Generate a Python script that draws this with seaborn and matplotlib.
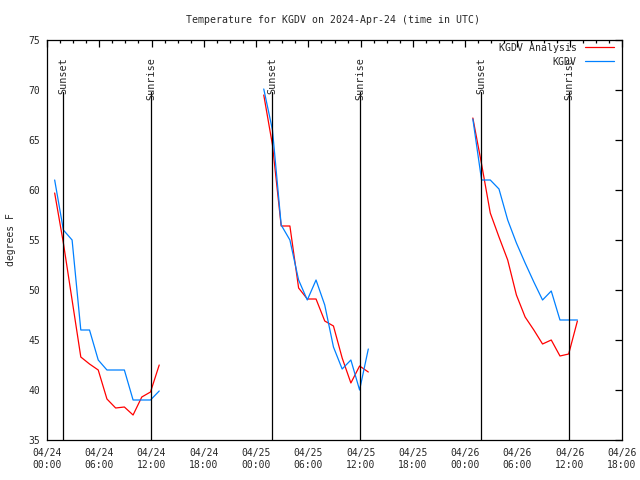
import numpy as np
import pandas as pd
import matplotlib
matplotlib.use("Agg")
import matplotlib.pyplot as plt
import seaborn as sns
from matplotlib.lines import Line2D

# hours since 2024-04-24 00:00 UTC, one value per hourly obs (:53)
hours_day1 = [0.88, 1.88, 2.88, 3.88, 4.88, 5.88, 6.88, 7.88, 8.88, 9.88, 10.88, 11.88, 12.88]
hours_day2 = [24.88, 25.88, 26.88, 27.88, 28.88, 29.88, 30.88, 31.88, 32.88, 33.88, 34.88, 35.88, 36.88]
hours_day3 = [48.88, 49.88, 50.88, 51.88, 52.88, 53.88, 54.88, 55.88, 56.88, 57.88, 58.88, 59.88, 60.88]

analysis_day1 = [59.7, 54.7, 49.0, 43.3, 42.6, 42.0, 39.1, 38.2, 38.3, 37.5, 39.3, 39.8, 42.5]
analysis_day2 = [69.5, 64.5, 56.4, 56.4, 50.2, 49.1, 49.1, 46.9, 46.4, 43.2, 40.7, 42.4, 41.8]
analysis_day3 = [67.2, 62.6, 57.7, 55.3, 53.0, 49.5, 47.3, 46.0, 44.6, 45.0, 43.4, 43.6, 46.9]

obs_day1 = [61.0, 56.0, 55.0, 46.0, 46.0, 43.0, 42.0, 42.0, 42.0, 39.0, 39.0, 39.0, 39.9]
obs_day2 = [70.1, 66.0, 56.5, 55.0, 51.0, 49.0, 51.0, 48.5, 44.3, 42.1, 43.0, 40.0, 44.1]
obs_day3 = [67.1, 61.0, 61.0, 60.1, 57.0, 54.7, 52.7, 50.8, 49.0, 49.9, 47.0, 47.0, 47.0]

sunset_hours = [1.85, 25.85, 49.85]
sunrise_hours = [11.95, 35.95, 59.95]

tick_hours = [0, 6, 12, 18, 24, 30, 36, 42, 48, 54, 60, 66]
tick_labels = ["04/24\n00:00", "04/24\n06:00", "04/24\n12:00", "04/24\n18:00",
               "04/25\n00:00", "04/25\n06:00", "04/25\n12:00", "04/25\n18:00",
               "04/26\n00:00", "04/26\n06:00", "04/26\n12:00", "04/26\n18:00"]

rows = []
for seg, (h, a, o) in enumerate([(hours_day1, analysis_day1, obs_day1),
                                 (hours_day2, analysis_day2, obs_day2),
                                 (hours_day3, analysis_day3, obs_day3)]):
    for hh, aa, oo in zip(h, a, o):
        rows.append({"hour": hh, "temp": aa, "series": "KGDV Analysis", "seg": seg})
        rows.append({"hour": hh, "temp": oo, "series": "KGDV", "seg": seg})
df = pd.DataFrame(rows)

sns.set_style("white")
plt.rcParams["font.family"] = ["DejaVu Sans Mono"]
plt.rcParams["font.size"] = 7

colors = {"KGDV Analysis": "#ff0000", "KGDV": "#0080ff"}

fig = plt.figure(figsize=(6.4, 4.8), dpi=100)
ax = fig.add_axes([47 / 640, 40 / 480, 575 / 640, 400 / 480])

sns.lineplot(data=df, x="hour", y="temp", hue="series", units="seg", estimator=None,
             palette=colors, linewidth=0.9, legend=False, ax=ax)

for h in sunset_hours + sunrise_hours:
    ax.plot([h, h], [35, 69.8], color="black", linewidth=0.9)
for h in sunset_hours:
    ax.text(h, 73.3, "Sunset", rotation=90, ha="center", va="top", fontsize=7.3)
for h in sunrise_hours:
    ax.text(h, 73.3, "Sunrise", rotation=90, ha="center", va="top", fontsize=7.3)

ax.set_xlim(0, 66)
ax.set_ylim(35, 75)
ax.set_xticks(tick_hours)
ax.set_xticklabels(tick_labels)
ax.set_xticks(np.arange(0, 66.1, 1.5), minor=True)
ax.set_yticks(np.arange(35, 76, 5))
ax.tick_params(which="both", direction="in", top=True, right=True, width=0.9, color="black")
ax.tick_params(which="major", length=5, pad=6)
ax.tick_params(which="minor", length=2.5)
ax.tick_params(axis="y", pad=5)
for s in ax.spines.values():
    s.set_color("black")
    s.set_linewidth(0.9)

ax.set_xlabel("")
ax.set_ylabel("degrees F", labelpad=9)
fig.text(333 / 640, 1 - 20 / 480, "Temperature for KGDV on 2024-Apr-24 (time in UTC)",
         ha="center", va="center", fontsize=7.1)

handles = [Line2D([], [], color=colors["KGDV Analysis"], linewidth=0.9),
           Line2D([], [], color=colors["KGDV"], linewidth=0.9)]
ax.legend(handles, ["KGDV Analysis", "KGDV"], loc="upper right", frameon=False,
          markerfirst=False, handlelength=3.0, handletextpad=0.8, labelspacing=0.4,
          borderaxespad=0.2, borderpad=0.3, fontsize=7.1, bbox_to_anchor=(0.995, 1.005))

fig.savefig("out.png", dpi=100)
